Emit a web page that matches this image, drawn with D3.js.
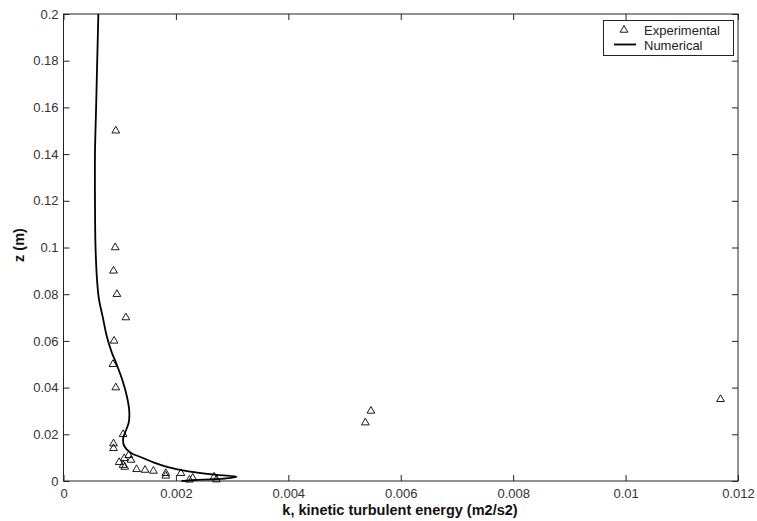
<!DOCTYPE html>
<html>
<head>
<meta charset="utf-8">
<script src="https://cdn.jsdelivr.net/npm/d3@7"></script>
<style>
  html, body { margin: 0; padding: 0; background: #fff; }
  svg { display: block; }
  text { font-family: "Liberation Sans", Arial, sans-serif; }
</style>
</head>
<body>
<svg id="chart" width="757" height="521"></svg>
<script>
// Turbulent kinetic energy profile: measured points vs. computed profile
const expK = [0.00093, 0.00092, 0.00089, 0.00095, 0.00111, 0.00090, 0.00088, 0.00093,
  0.00106, 0.00089, 0.00089, 0.00116, 0.00108, 0.00120, 0.00099, 0.00106, 0.00109,
  0.00130, 0.00145, 0.00160, 0.00182, 0.00182, 0.00209, 0.00224, 0.00230, 0.00268,
  0.00272, 0.00537, 0.00547, 0.01169];
const expZ = [0.150, 0.100, 0.090, 0.080, 0.070, 0.060, 0.050, 0.040,
  0.020, 0.016, 0.014, 0.011, 0.0097, 0.009, 0.008, 0.0068, 0.006,
  0.005, 0.0047, 0.0043, 0.0033, 0.0022, 0.0033, 0.0005, 0.0013, 0.0018,
  0.0006, 0.025, 0.030, 0.035];

const numK = [0.00062, 0.00060, 0.00058, 0.00056, 0.00056, 0.00057, 0.00060, 0.00063,
  0.00070, 0.00077, 0.00086, 0.00095, 0.00105, 0.00113, 0.00117, 0.00116, 0.00110,
  0.00106, 0.00108, 0.00120, 0.00136, 0.00160, 0.00184, 0.00225, 0.00273, 0.00308,
  0.00280, 0.00230, 0.00210];
const numZ = [0.200, 0.180, 0.160, 0.140, 0.120, 0.100, 0.085, 0.078,
  0.070, 0.062, 0.055, 0.0497, 0.043, 0.036, 0.030, 0.025, 0.021,
  0.018, 0.015, 0.012, 0.0104, 0.008, 0.0061, 0.004, 0.0026, 0.0018,
  0.0009, 0.0004, 0.0];

const xTicks = [0, 0.002, 0.004, 0.006, 0.008, 0.01, 0.012];
const yTicks = [0, 0.02, 0.04, 0.06, 0.08, 0.1, 0.12, 0.14, 0.16, 0.18, 0.2];
const xTickLabels = ["0", "0.002", "0.004", "0.006", "0.008", "0.01", "0.012"];
const yTickLabels = ["0", "0.02", "0.04", "0.06", "0.08", "0.1", "0.12", "0.14", "0.16", "0.18", "0.2"];

const seriesNames = ["Experimental", "Numerical"];
const xTitle = "k, kinetic turbulent energy (m2/s2)";
const yTitle = "z (m)";

const svg = d3.select("#chart");
const L = 63.5, R = 738, T = 14, B = 481;

const x = d3.scaleLinear().domain([0, 0.012]).range([L, R]);
const y = d3.scaleLinear().domain([0, 0.2]).range([B, T]);

const axisColor = "#222";
const tickLen = 6;

// Axes with inward ticks on all four sides
const gx = svg.append("g").attr("transform", `translate(0,${B})`)
  .call(d3.axisBottom(x).tickValues(xTicks).tickSizeInner(-tickLen).tickSizeOuter(0)
    .tickPadding(7.5).tickFormat((d, i) => xTickLabels[i]));
const gy = svg.append("g").attr("transform", `translate(${L},0)`)
  .call(d3.axisLeft(y).tickValues(yTicks).tickSizeInner(-tickLen).tickSizeOuter(0)
    .tickPadding(5).tickFormat((d, i) => yTickLabels[i]));
const gxt = svg.append("g").attr("transform", `translate(0,${T})`)
  .call(d3.axisTop(x).tickValues(xTicks).tickSizeInner(-tickLen).tickSizeOuter(0).tickFormat(""));
const gyr = svg.append("g").attr("transform", `translate(${R},0)`)
  .call(d3.axisRight(y).tickValues(yTicks).tickSizeInner(-tickLen).tickSizeOuter(0).tickFormat(""));

[gx, gy, gxt, gyr].forEach(g => {
  g.select(".domain").remove();
  g.selectAll("line").attr("stroke", axisColor).attr("stroke-width", 1);
  g.selectAll("text").attr("font-size", 13).attr("fill", "#333")
    .attr("font-family", "'Liberation Sans', Arial, sans-serif");
});

// Plot frame
svg.append("rect").attr("x", L).attr("y", T).attr("width", R - L).attr("height", B - T)
  .attr("fill", "none").attr("stroke", axisColor).attr("stroke-width", 1);

// Computed profile
const numData = numK.map((k, i) => [k, numZ[i]]);
svg.append("path").datum(numData)
  .attr("d", d3.line().x(d => x(d[0])).y(d => y(d[1])).curve(d3.curveCatmullRom.alpha(0.5)))
  .attr("fill", "none").attr("stroke", "#000").attr("stroke-width", 1.8);

// Measured points (open triangles)
const tri = d3.symbol().type(d3.symbolTriangle).size(26);
const expData = expK.map((k, i) => [k, expZ[i]]);
svg.append("g").selectAll("path").data(expData).join("path")
  .attr("d", tri)
  .attr("transform", d => `translate(${x(d[0])},${y(d[1])})`)
  .attr("fill", "none").attr("stroke", "#000").attr("stroke-width", 0.9);

// Axis titles
svg.append("text").attr("x", 400).attr("y", 515).attr("text-anchor", "middle")
  .attr("font-size", 14.5).attr("font-weight", "bold").attr("fill", "#111").text(xTitle);
svg.append("text").attr("transform", `translate(24,245) rotate(-90)`)
  .attr("text-anchor", "middle").attr("font-size", 14.5).attr("font-weight", "bold")
  .attr("fill", "#111").text(yTitle);

// Legend
const lg = svg.append("g");
lg.append("rect").attr("x", 603.5).attr("y", 20.5).attr("width", 130).attr("height", 35)
  .attr("fill", "#fff").attr("stroke", axisColor).attr("stroke-width", 1);
lg.append("path").attr("d", tri).attr("transform", "translate(624,30)")
  .attr("fill", "none").attr("stroke", "#000").attr("stroke-width", 0.9);
lg.append("line").attr("x1", 614).attr("x2", 636).attr("y1", 44.5).attr("y2", 44.5)
  .attr("stroke", "#000").attr("stroke-width", 1.8);
lg.append("text").attr("x", 644).attr("y", 34.5).attr("font-size", 13).attr("fill", "#222").text(seriesNames[0]);
lg.append("text").attr("x", 644).attr("y", 49.5).attr("font-size", 13).attr("fill", "#222").text(seriesNames[1]);
</script>
</body>
</html>
